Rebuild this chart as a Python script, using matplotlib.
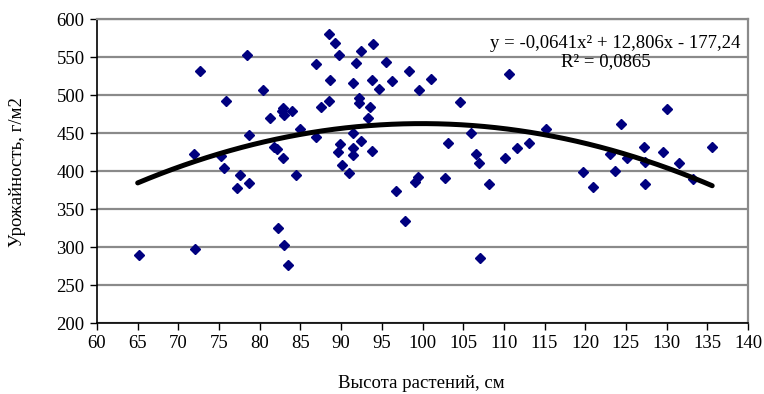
import numpy as np
import matplotlib
matplotlib.use("Agg")
import matplotlib.pyplot as plt

height_cm = [65.2, 72.0, 71.9, 72.6, 75.2, 75.6, 75.9, 77.2, 77.6, 78.4,
             78.7, 78.7, 80.4, 81.2, 81.7, 82.1, 82.2, 82.8, 82.7, 83.0,
             82.8, 83.0, 83.5, 84.0, 84.4, 84.9, 86.9, 86.9, 87.5, 88.5,
             89.2, 88.5, 88.6, 89.7, 89.9, 89.6, 90.1, 91.0, 91.4, 91.8,
             91.5, 91.5, 91.5, 92.2, 92.2, 92.5, 93.3, 93.5, 92.4, 93.9,
             93.8, 93.8, 94.6, 95.5, 96.3, 96.8, 97.8, 98.4, 99.1, 99.5,
             99.6, 101.0, 102.8, 103.1, 104.6, 106.0, 106.6, 107.0, 107.1, 108.2,
             110.1, 110.6, 111.6, 113.1, 115.2, 119.7, 121.0, 123.0, 123.6, 124.4,
             125.1, 127.2, 127.4, 127.4, 129.6, 130.1, 131.5, 133.2, 135.6]
yield_gm2 = [290, 297, 422, 532, 419.5, 403.5, 491.5, 377.5, 394.7, 552.6,
             447, 384.5, 507, 470, 432, 429, 324.6, 483.5, 479.5, 474,
             417.5, 302.6, 276.3, 479.5, 394.7, 455.5, 540.5, 444.5, 483.8, 579.8,
             568.8, 492.5, 519.3, 552.6, 435, 425.4, 407.9, 397.8, 449.6, 542.5,
             515.4, 430.7, 421, 496.4, 489.9, 439.5, 470.1, 484.6, 557.5, 567,
             519.3, 426.3, 508, 543, 518.4, 374, 334, 531, 386, 391.7,
             506.6, 520.6, 391, 436.4, 490.4, 450.4, 422, 410, 285, 382.5,
             417.5, 527.2, 429.8, 437.3, 455.3, 398.3, 379.3, 422.4, 400, 461.8,
             416.7, 432, 411.4, 383, 425.4, 481, 411, 389, 432]

trend_coef = [-0.0641, 12.806, -177.24]
trend_range = [65, 135.6]

x_ticks = list(range(60, 141, 5))
y_ticks = list(range(200, 601, 50))

plt.rcParams['font.family'] = ['Liberation Serif', 'DejaVu Serif']

W, H = 764, 394
fig = plt.figure(figsize=(W / 100, H / 100), dpi=100)
left, right, top, bottom = 97, 748, 19, 323
ax = fig.add_axes([left / W, 1 - bottom / H, (right - left) / W, (bottom - top) / H])

ax.set_xlim(60, 140)
ax.set_ylim(200, 600)
ax.set_xticks(x_ticks)
ax.set_yticks(y_ticks)
ax.tick_params(axis='both', direction='out', length=5, width=1, labelsize=13.5, colors='black')
ax.tick_params(axis='x', pad=4)
ax.tick_params(axis='y', pad=4)

ax.grid(axis='y', color='#8a8a8a', linewidth=1.6)
ax.set_axisbelow(True)
for s in ['top', 'right']:
    ax.spines[s].set_color('#8a8a8a')
    ax.spines[s].set_linewidth(1.6)
for s in ['left', 'bottom']:
    ax.spines[s].set_color('black')
    ax.spines[s].set_linewidth(1.2)

ax.plot(height_cm, yield_gm2, linestyle='none', marker='D', markersize=5.6,
        color='#00007f', zorder=3)

xs = np.linspace(trend_range[0], trend_range[1], 200)
ax.plot(xs, np.polyval(trend_coef, xs), color='black', linewidth=3.6,
        solid_capstyle='round', zorder=4)

fig.text(740 / W, 1 - 44 / H, 'y = -0,0641x² + 12,806x - 177,24', ha='right', va='center',
         fontsize=13.5)
fig.text(606 / W, 1 - 62 / H, 'R² = 0,0865', ha='center', va='center', fontsize=13.5)

fig.text(18 / W, 1 - 172 / H, 'Урожайность, г/м2', rotation=90, ha='center', va='center',
         fontsize=13.5)
fig.text(421 / W, 1 - 383 / H, 'Высота растений, см', ha='center', va='center', fontsize=13.5)

fig.savefig('out.png', dpi=100)
